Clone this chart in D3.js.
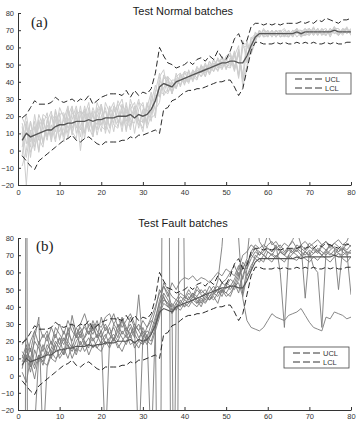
<!DOCTYPE html>
<html>
<head>
<meta charset="utf-8">
<script src="https://cdn.jsdelivr.net/npm/d3@7"></script>
<style>
  body { margin: 0; background: #fff; }
  text { font-family: "Liberation Sans", Arial, sans-serif; }
</style>
</head>
<body>
<svg id="chart" width="356" height="425"></svg>
<script>
// sample index 1..80
const steps = d3.range(1, 81);
const xTicks = [0, 10, 20, 30, 40, 50, 60, 70, 80];
const yTicks = [-20, -10, 0, 10, 20, 30, 40, 50, 60, 70, 80];

// mean trajectory of the normal batches
const meanLine = [6,10,8,9,10,11,12,12,14,15,
  15,16,16,17,17,17,18,17,18,18,
  19,19,19,20,20,20,21,19,21,20,
  21,24,29,37,39,38,37,40,41,42,
  43,44,45,46,47,48,49,50,51,51,
  52,52,51,51,55,61,66,68,68,68,
  68,68,68,68,68,68,69,68,69,69,
  69,69,69,69,69,70,69,69,69,69];

const ucl = [19,21,25,29,27,27,27,28,31,29,
  28,29,30,28,30,29,32,27,29,31,
  32,33,33,33,32,35,31,35,32,34,
  33,36,45,60,55,51,50,48,49,50,
  52,50,53,54,52,55,53,58,54,53,
  58,65,68,62,64,72,74,74,73,74,
  73,74,73,74,74,74,74,75,74,75,
  74,76,75,77,76,75,74,76,76,77];

const lcl = [-3,-6,-9,-11,-6,-4,-2,0,2,4,
  6,7,9,6,5,7,8,6,4,3,
  5,5,5,5,6,6,8,7,9,9,
  10,11,12,10,24,25,29,30,32,34,
  35,35,36,36,37,38,39,40,40,41,
  41,37,32,36,47,58,63,63,62,62,
  62,63,62,63,62,62,63,62,63,62,
  63,62,62,63,62,63,62,62,63,63];

// normal test batches, as offsets from the mean
const normalDev1 = [10,-6,9,-4,11,3,-6,8,-3,10, 4,-9,6,2,-5,9,-3,8,0,-7, 9,3,-8,5,10,-3,6,-9,3,8, -5,4,9,-6,4,1,-3,5,-4,3, 1,-2,4,-1,3,-4,1,3,-2,4, 5,-4,8,-9,-6,3,1,-2,3,-1, 2,-2,1,3,-1,2,-3,1,2,-1, 3,-2,1,2,-3,1,2,-1,3,-2];
const normalDev2 = [-9,7,-12,5,-4,10,7,-3,9,-8, -2,8,-5,-10,6,3,10,-6,4,9, -3,-9,6,-2,-5,8,-6,4,-3,-9, 6,-5,-8,4,-3,5,3,-4,2,-1, -2,3,-1,3,-4,2,-1,-3,4,-1, -3,6,-9,11,7,-4,-2,2,-1,2, -1,2,-2,-1,2,-2,1,-2,-1,2, -2,1,-1,-2,2,-1,-2,2,-1,1];
const normalDev3 = [5,-30,4,-9,7,-6,5,11,-7,3, -6,4,10,-4,9,-7,3,-5,10,3, -6,4,9,-4,3,-8,9,3,-6,4, 3,-7,5,8,-7,-2,4,1,-3,4, 2,-1,-4,3,1,-3,4,-1,3,-2, -4,3,10,-14,-7,4,2,-1,2,1, -2,1,2,-2,1,-1,2,-2,1,2, -1,2,-2,1,-1,2,-2,1,-1,2];
const normalDev4 = [13,4,-6,12,-3,-9,6,-4,3,7, -10,3,-6,7,-17,4,-7,6,-9,2, 4,-5,3,7,-6,4,-3,7,-8,3, -6,8,-5,-9,5,3,-4,3,4,-3, -1,2,-3,4,-2,1,-3,4,-1,3, 3,-3,5,-7,9,-5,-3,2,-2,-1, 1,-2,2,-1,-2,1,-1,2,-2,-1, 2,-1,2,-2,1,-2,1,-2,2,-1];
const normalDev5 = [-15,-10,9,-7,4,8,-4,3,-9,6, 7,-3,2,9,-3,-6,7,-9,3,-4, -7,6,-3,9,4,-4,-7,3,9,-4, 7,-3,6,-3,-6,4,-3,-1,3,-4, 4,-3,3,-1,4,-3,2,-4,1,-3, -1,5,-7,13,-4,5,-2,1,-1,2, -2,2,-1,2,-2,1,2,-1,-2,1, -2,2,-1,1,-2,2,-1,1,2,-2];
const normalDev6 = [2,11,-3,8,-10,4,10,-7,6,-4, 3,10,-7,4,6,-10,4,3,-3,7, -4,7,1,-6,7,-9,3,9,-4,-3, -3,5,-10,6,8,-4,2,-3,1,4, -3,1,-3,2,-4,4,-1,3,-3,1, 4,-5,7,-11,5,-3,3,-2,1,-2, 2,-1,1,-2,2,-1,1,2,-1,-2, 1,-2,2,-1,2,-1,-2,1,-1,2];
const normalDev7 = [8,-14,3,4,-11,7,-4,9,4,-9, 6,-6,9,-7,3,7,-4,-9,7,-3, 6,-6,7,3,-9,6,-4,-3,7,6, -8,-3,3,-5,3,5,-4,2,-3,1, -4,2,1,-3,2,-1,4,-2,3,-4, 2,-6,6,-10,-8,2,-1,2,-2,1, -1,2,-2,1,-2,2,-1,1,-2,2, -1,2,-2,1,-1,2,-2,2,1,-1];
const normalDev8 = [-4,5,-9,-3,8,-7,3,-6,10,-1, -7,9,-3,4,-9,6,-6,4,-6,9, -9,3,-4,-7,6,3,-9,6,-3,-7, 4,10,-6,2,-4,-5,3,-4,4,-2, 3,-4,2,-3,-1,4,-3,1,-4,2, -2,4,-8,9,6,-4,2,-2,2,-2, 2,-2,2,-1,1,-2,2,-1,2,-2, 2,-1,1,-2,2,-2,1,-1,2,-1];

// fault test batches
const fault1 = [-1200,300,-1000,-30,12,8,15,20,14,22, 18,25,20,28,22,30,24,28,22,26, 30,24,28,22,33,26,30,24,20,28, 22,30,38,50,45,42,40,44,42,46, 44,48,46,50,47,52,48,50,54,52, 56,54,60,48,62,68,72,70,74,72, 70,74,72,70,73,71,74,72,70,73, 71,74,72,70,73,75,72,74,71,73];
const fault2 = [10,18,5,22,34,-40,5,12,18,10, 14,20,16,24,18,22,26,20,24,18, 22,28,20,26,22,18,24,28,22,26, 20,18,26,34,48,44,38,42,40,44, 42,46,44,40,46,44,48,46,50,48, 52,50,56,64,58,62,70,68,66,72, 70,68,72,70,74,72,70,68,72,70, 74,72,70,73,71,70,74,72,70,72];
const fault3 = [6,12,2,15,8,18,12,16,24,18, 26,20,35,24,28,22,30,26,32,24, -40,20,30,26,34,28,24,30,26,22, 28,32,30,-200,300,250,-200,42,46,44, 48,45,50,47,44,49,52,48,54,56, 60,58,64,56,66,70,74,72,70,74, 72,75,73,71,74,72,76,74,72,75, 73,71,75,73,76,74,72,75,73,76];
const fault4 = [12,8,16,6,20,14,24,10,18,22, 12,28,18,14,26,20,16,30,22,34, 26,30,36,28,32,24,34,28,-45,22, 26,24,32,44,52,48,40,-250,300,45, 50,46,52,48,50,46,50,52,48,54, 52,56,62,70,72,76,74,70,72,76, 78,74,76,72,75,78,74,76,73,77, 75,72,76,78,74,77,75,73,77,75];
const fault5 = [8,14,10,20,16,10,18,14,20,16, 22,18,14,20,24,18,22,16,20,26, 18,22,24,20,26,22,28,22,47,18, 24,-45,30,40,54,50,46,44,48,46, 44,48,42,46,48,44,47,50,46,52, 50,54,48,58,66,70,68,72,70,68, 71,69,72,70,68,71,73,70,72,69, 71,73,70,72,70,73,71,70,72,71];
const fault6 = [14,10,20,26,18,24,20,28,22,30, 24,32,26,22,30,36,28,24,30,28, 34,36,30,34,28,32,36,30,26,32, 28,34,40,48,52,46,54,50,55,57, 56,58,55,57,56,54,57,60,58,62, 60,64,58,66,62,72,76,74,76,74, 72,76,60,28,70,74,72,76,45,72, 63,60,28,72,76,74,50,74,72,47];
const fault7 = [4,16,8,-2,12,6,14,10,8,16, 12,18,10,16,14,20,12,18,16,14, 20,16,22,18,14,20,24,16,20,18, 22,20,28,36,42,40,38,40,42,40, 42,44,42,45,43,46,48,55,75,110, 120,100,80,45,32,28,27,26,28,32, 36,34,33,32,35,36,37,39,35,31, 28,27,26,34,33,37,36,35,33,34];
const fault8 = [18,22,14,26,30,22,26,18,28,24, 20,26,30,22,26,28,24,32,26,22, 28,24,20,30,24,28,22,26,30,24, 20,26,34,42,46,40,42,38,44,40, 46,42,40,44,42,46,44,48,50,48, 46,52,58,62,68,92,96,78,74,82, 76,78,74,77,75,79,84,76,78,75, 77,79,76,78,75,77,79,76,78,84];
const fault9 = [2,-4,10,4,12,8,6,14,10,12, 16,10,18,12,20,14,18,22,16,20, 24,18,22,16,20,24,18,20,16,22, 18,24,30,38,44,42,36,40,38,42, 40,44,46,42,48,44,46,42,50,46, 48,52,54,46,58,64,68,66,70,68, 66,70,68,66,70,68,67,70,68,66, 69,67,70,68,66,69,71,68,66,69];

const normalBatches = [normalDev1, normalDev2, normalDev3, normalDev4,
  normalDev5, normalDev6, normalDev7, normalDev8]
  .map(dev => dev.map((d, i) => meanLine[i] + d));
const faultBatches = [fault1, fault2, fault3, fault4, fault5, fault6, fault7, fault8, fault9];

const svg = d3.select("#chart");
const x = d3.scaleLinear().domain([0, 80]).range([18, 351]);

function drawPanel(cfg) {
  const y = d3.scaleLinear().domain([-20, 80]).range([cfg.bottom, cfg.top]);
  const line = d3.line().x((d, i) => x(steps[i])).y(d => y(d));

  svg.append("clipPath").attr("id", cfg.id)
    .append("rect")
    .attr("x", x(0)).attr("y", y(80))
    .attr("width", x(80) - x(0)).attr("height", y(-20) - y(80));

  const plot = svg.append("g").attr("clip-path", `url(#${cfg.id})`);

  cfg.batches.forEach(b => {
    plot.append("path").attr("d", line(b))
      .attr("fill", "none")
      .attr("stroke", cfg.batchColor)
      .attr("stroke-width", cfg.batchWidth)
      .attr("stroke-linejoin", "round");
  });

  plot.append("path").attr("d", line(meanLine))
    .attr("fill", "none").attr("stroke", cfg.meanColor).attr("stroke-width", cfg.meanWidth);

  [ucl, lcl].forEach(lim => {
    plot.append("path").attr("d", line(lim))
      .attr("fill", "none").attr("stroke", "#2a2a2a")
      .attr("stroke-width", 1).attr("stroke-dasharray", "6,3");
  });

  const xAxis = svg.append("g")
    .attr("transform", `translate(0,${cfg.bottom})`)
    .call(d3.axisBottom(x).tickValues(xTicks).tickSize(-3).tickSizeOuter(0).tickPadding(cfg.xPad));
  const yAxis = svg.append("g")
    .attr("transform", `translate(${x(0)},0)`)
    .call(d3.axisLeft(y).tickValues(yTicks).tickSize(-3).tickSizeOuter(0).tickPadding(4));

  [xAxis, yAxis].forEach(a => {
    a.attr("font-family", "'Liberation Sans', Arial, sans-serif").attr("font-size", 7.5);
    a.selectAll("path, line").attr("stroke", "#333");
    a.selectAll("text").attr("fill", "#333");
  });

  svg.append("text")
    .attr("x", 183).attr("y", cfg.titleY)
    .attr("text-anchor", "middle")
    .attr("font-size", 11).attr("fill", "#1a1a1a")
    .text(cfg.title);

  svg.append("text")
    .attr("x", cfg.tagX).attr("y", cfg.tagY)
    .style("font-family", "'Liberation Serif', 'DejaVu Serif', serif")
    .attr("font-size", 15).attr("fill", "#222")
    .text(cfg.tag);

  // legend
  const lg = svg.append("g").attr("transform", `translate(${cfg.legendX},${cfg.legendY})`);
  lg.append("rect").attr("width", 65).attr("height", 21)
    .attr("fill", "#fff").attr("stroke", "#444").attr("stroke-width", 0.8);
  ["UCL", "LCL"].forEach((name, i) => {
    const ly = 6 + i * 9;
    lg.append("line").attr("x1", 9).attr("x2", 37).attr("y1", ly).attr("y2", ly)
      .attr("stroke", "#333").attr("stroke-width", 1).attr("stroke-dasharray", "7,3");
    lg.append("text").attr("x", 39).attr("y", ly + 2.6)
      .attr("font-size", 7.5).attr("fill", "#333").text(name);
  });
}

drawPanel({
  id: "clipA", top: 13, bottom: 185, xPad: 4.5,
  batches: normalBatches, batchColor: "#cdcdcd", batchWidth: 1,
  meanColor: "#555", meanWidth: 1.4,
  title: "Test Normal batches", titleY: 15,
  tag: "(a)", tagX: 31, tagY: 27,
  legendX: 286, legendY: 73
});

drawPanel({
  id: "clipB", top: 238, bottom: 410, xPad: 4,
  batches: faultBatches, batchColor: "#7a7a7a", batchWidth: 0.9,
  meanColor: "#555", meanWidth: 1.1,
  title: "Test Fault batches", titleY: 227,
  tag: "(b)", tagX: 36, tagY: 251,
  legendX: 284, legendY: 347
});
</script>
</body>
</html>
